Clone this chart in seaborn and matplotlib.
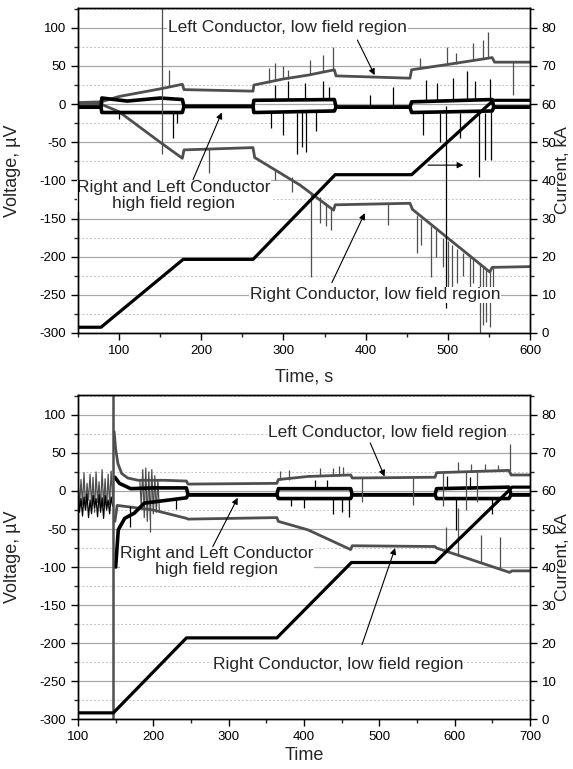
import numpy as np
import pandas as pd
import seaborn as sns
import matplotlib.pyplot as plt
from matplotlib.ticker import MultipleLocator

sns.set_theme(style="ticks")
plt.rcParams['font.family'] = ['Liberation Sans', 'DejaVu Sans']
plt.rcParams['axes.unicode_minus'] = False

GRAY = '#4f4f4f'

# ---------------- top test (time 50..600 s) ----------------
top_cur_t = [50, 78, 178, 263, 363, 456, 553, 556, 600]
top_cur_i = [1.5, 1.5, 19.3, 19.3, 41.5, 41.5, 60.5, 61, 61]

top_left_t = [50, 78, 100, 150, 177, 179, 263, 264, 300, 330, 362, 364, 454, 456, 500, 554, 557, 600]
top_left_v = [2, 3, 10, 20, 26, 19, 17, 25, 33, 38, 45, 37, 34, 45, 52, 61, 55, 55]

top_right_t = [50, 78, 100, 150, 177, 179, 263, 265, 320, 361, 363, 454, 457, 551, 554, 600]
top_right_v = [0, 0, -10, -50, -71, -60, -57, -70, -106, -139, -132, -130, -138, -220, -214, -213]

top_hf_t = [50, 78, 79, 110, 150, 177, 179, 263, 264, 362, 364, 454, 456, 554, 556, 600]
top_hf1_v = [-4, -4, 8, 4, 8, 6, -3, -3, 5, 6, -4, -4, 3, 6, -4, -4]
top_hf2_v = [-4, -4, -11, -11, -11, -11, -3, -3, -11, -9, -4, -4, -11, -9, -4, -4]

# spikes: time, start, end (uV)
top_gray_spk_t = [151.8, 161, 209.5, 283, 290, 300, 305, 332, 348, 360, 466, 499, 510, 531, 543, 549, 579,
                  290, 310, 333, 345, 352, 358, 427, 462, 468, 480, 486, 494, 500, 505, 511, 519, 527, 531,
                  539, 543, 547, 551, 555]
top_gray_spk_lo = [-66, 22, -58, 28, 30, 33, 33, 38, 42, 44, 46, 52, 53, 57, 60, 61, 55,
                   -85, -95, -115, -122, -130, -136, -130, -145, -150, -160, -165, -175, -180, -185, -190, -195,
                   -200, -203, -210, -213, -216, -219, -215]
top_gray_spk_hi = [126, 45, -90, 48, 54, 50, 45, 58, 65, 75, 60, 75, 67, 80, 84, 95, 12,
                   -100, -115, -226, -156, -160, -165, -158, -195, -185, -226, -200, -213, -243, -260, -235, -225,
                   -240, -235, -300, -290, -285, -292, -260]

top_blk_spk_t = [100, 166, 170, 290, 305, 326, 348, 356, 405, 433, 474, 487, 506, 523, 533, 551,
                 285, 300, 316, 322, 328, 340, 470, 490, 497.4, 515, 538, 545, 553]
top_blk_spk_lo = [-12, -12, -12, 5, 5, 5, 6, 6, -4, -4, 4, 4, 5, 5, 6, 7,
                  -12, -12, -12, -10, -10, -10, -12, -12, -3, -12, -12, -12, -10]
top_blk_spk_hi = [-20, -44, -25, 25, 30, 28, 30, 23, 12, 22, 32, 28, 34, 43, 30, 33,
                  -31, -40, -66, -56, -63, -35, -40, -50, -267, -45, -95, -73, -73]

# ---------------- bottom test (time 100..700 s) ----------------
bot_cur_t = [100, 147, 244, 364, 463, 574, 673, 676, 700]
bot_cur_i = [1.7, 1.7, 21.4, 21.4, 41.2, 41.2, 60.3, 61, 61]

bot_left_t = [148, 150, 153, 158, 166, 180, 215, 244, 246, 364, 366, 405, 462, 464, 574, 576, 672, 675, 700]
bot_left_v = [78, 55, 36, 23, 17, 14, 14, 13, 9, 10, 15, 19, 21, 17, 18, 24, 27, 21, 21]

bot_right_t = [149, 152, 160, 200, 244, 246, 364, 366, 405, 462, 464, 574, 576, 673, 676, 700]
bot_right_v = [-40, -19, -20, -25, -36, -37, -35, -40, -51, -77, -72, -73, -75, -107, -105, -105]

bot_hf1_t = [149, 155, 170, 200, 244, 246, 364, 366, 462, 464, 574, 576, 672, 675, 700]
bot_hf1_v = [18, 10, 3, 4, 4, -5, -5, 3, 3, -5, -5, 3, 5, -5, -5]
bot_hf2_t = [150, 153.5, 162, 175, 188, 244, 246, 364, 366, 462, 464, 574, 576, 672, 675, 700]
bot_hf2_v = [-100, -51, -36, -29, -16, -9, -5, -5, -10, -10, -5, -5, -10, -10, -5, -5]

# noisy start before the event at 147 s and the burst near 195 s
osc_t = [100, 102, 104, 106, 108, 110, 112, 114, 116, 118, 120, 122, 124, 126, 128, 130, 132, 134, 136, 138,
         140, 142, 144, 146]
osc_gray = [20, -22, 15, -18, 24, -25, 10, -12, 22, -20, 18, -28, 25, -15, 12, -24, 28, -20, 16, -26, 22, -18,
            26, -10]
osc_black = [-5, -28, -10, -33, -8, -25, -4, -35, -12, -30, -6, -22, -10, -34, -5, -28, -9, -36, -6, -24, -12,
             -30, -8, -20]
burst_t = [182, 184, 186, 188, 190, 192, 194, 196, 198, 200, 202, 204, 206, 208]
burst_gray = [15, -20, 28, -35, 30, -40, 25, -38, 28, -30, 20, -28, 15, -25]

bot_gray_spk_t = [195.6, 368, 380, 421, 439, 447, 452, 605, 622, 640, 658, 674,
                  476.6, 545, 585, 615, 630, 589, 604, 635, 660]
bot_gray_spk_lo = [-30, 14, 15, 19, 20, 20, 21, 25, 25, 26, 26, 26,
                   17, 18, 24, 25, 25, -78, -85, -95, -103]
bot_gray_spk_hi = [-54, 26, 27, 30, 30, 33, 31, 38, 36, 35, 34, 62,
                   -14, -18, -20, -25, -15, -47, -22, -58, -60]
bot_event_t = 147

bot_blk_spk_t = [168.6, 230.5, 383, 400, 415, 430, 439, 450, 460, 590, 602, 620, 650]
bot_blk_spk_lo = [-20, -9, -10, -10, 3, 3, -10, -10, -10, 3, -10, 3, -10]
bot_blk_spk_hi = [-47, -24, -20, -22, 15, 14, -30, -28, -34, 20, -51, 18, -30]

fig = plt.figure(figsize=(5.73, 7.69), dpi=100)
ax_top = fig.add_axes([0.1361, 0.567, 0.7888, 0.4226])
ax_bot = fig.add_axes([0.1361, 0.0646, 0.7888, 0.4217])


def style_axes(ax, ax2, xmin, xmax):
    ax.set_xlim(xmin, xmax)
    ax.set_ylim(-300, 126)
    ax2.set_ylim(0, 85.2)
    ax.xaxis.set_major_locator(MultipleLocator(100))
    ax.xaxis.set_minor_locator(MultipleLocator(50))
    ax.yaxis.set_major_locator(MultipleLocator(50))
    ax.yaxis.set_minor_locator(MultipleLocator(25))
    ax2.yaxis.set_major_locator(MultipleLocator(10))
    ax2.yaxis.set_minor_locator(MultipleLocator(5))
    ax.grid(which='major', axis='y', color='#a8a8a8', lw=0.9, ls='-')
    ax.grid(which='minor', axis='y', color='#c4c4c4', lw=0.7, ls=(0, (2, 2)))
    ax.set_axisbelow(True)
    for a in (ax, ax2):
        for s in a.spines.values():
            s.set_color('black')
            s.set_linewidth(1.0)
            s.set_visible(True)
        a.tick_params(which='major', direction='out', length=5, width=1, labelsize=9.5, colors='black')
        a.tick_params(which='minor', direction='out', length=3, width=1)
    ax.tick_params(axis='y', which='both', right=False)
    ax2.tick_params(axis='y', which='both', left=False, right=True)


def draw_signals(ax, lt, lv, rt, rv, h1t, h1v, h2t, h2v):
    sns.lineplot(x=lt, y=lv, ax=ax, color=GRAY, linewidth=2.0, sort=False, estimator=None)
    sns.lineplot(x=rt, y=rv, ax=ax, color=GRAY, linewidth=2.0, sort=False, estimator=None)
    sns.lineplot(x=h1t, y=h1v, ax=ax, color='black', linewidth=2.6, sort=False, estimator=None)
    sns.lineplot(x=h2t, y=h2v, ax=ax, color='black', linewidth=2.6, sort=False, estimator=None)


arrow = dict(arrowstyle='-|>', color='black', lw=0.8, mutation_scale=9, shrinkA=0, shrinkB=0)
box = dict(facecolor='white', edgecolor='none', pad=0.5)

# ---------------- top panel ----------------
ax2_top = ax_top.twinx()
style_axes(ax_top, ax2_top, 50, 600)
draw_signals(ax_top, top_left_t, top_left_v, top_right_t, top_right_v,
             top_hf_t, top_hf1_v, top_hf_t, top_hf2_v)
ax_top.vlines(top_gray_spk_t, top_gray_spk_lo, top_gray_spk_hi, colors=GRAY, lw=0.9)
ax_top.vlines(top_blk_spk_t, top_blk_spk_lo, top_blk_spk_hi, colors='black', lw=0.9)
sns.lineplot(x=top_cur_t, y=top_cur_i, ax=ax2_top, color='black', linewidth=2.3, sort=False, estimator=None)

ax_top.text(159.5, 100, 'Left Conductor, low field region', fontsize=12.5, va='center', ha='left', bbox=box)
ax_top.annotate('', xy=(411, 38), xytext=(390, 84), arrowprops=arrow)
ax_top.text(166.8, -120, 'Right and Left Conductor\nhigh field region', fontsize=12.5, va='center',
            ha='center', multialignment='center', linespacing=1.05, bbox=box)
ax_top.annotate('', xy=(225, -11), xytext=(190, -99), arrowprops=arrow)
ax_top.text(259, -250, 'Right Conductor, low field region', fontsize=12.5, va='center', ha='left', bbox=box)
ax_top.annotate('', xy=(399, -143), xytext=(359, -234), arrowprops=arrow)
ax_top.annotate('', xy=(519, -80), xytext=(476, -80), arrowprops=arrow)

ax_top.set_xlabel('Time, s', fontsize=13)
ax_top.xaxis.set_label_coords(0.5, -0.11)
ax_top.set_ylabel('Voltage, \u00b5V', fontsize=13)
ax_top.yaxis.set_label_coords(-0.126, 0.5)
ax2_top.set_ylabel('Current, kA', fontsize=12.5)
ax2_top.yaxis.set_label_coords(1.056, 0.5)

# ---------------- bottom panel ----------------
ax2_bot = ax_bot.twinx()
style_axes(ax_bot, ax2_bot, 100, 700)
sns.lineplot(x=osc_t, y=osc_gray, ax=ax_bot, color=GRAY, linewidth=0.9, sort=False, estimator=None)
sns.lineplot(x=osc_t, y=osc_black, ax=ax_bot, color='black', linewidth=0.9, sort=False, estimator=None)
sns.lineplot(x=burst_t, y=burst_gray, ax=ax_bot, color=GRAY, linewidth=0.9, sort=False, estimator=None)
draw_signals(ax_bot, bot_left_t, bot_left_v, bot_right_t, bot_right_v,
             bot_hf1_t, bot_hf1_v, bot_hf2_t, bot_hf2_v)
ax_bot.vlines(bot_gray_spk_t, bot_gray_spk_lo, bot_gray_spk_hi, colors=GRAY, lw=0.9)
ax_bot.vlines(bot_event_t, -300, 126, colors=GRAY, lw=1.8)
ax_bot.vlines(bot_blk_spk_t, bot_blk_spk_lo, bot_blk_spk_hi, colors='black', lw=0.9)
sns.lineplot(x=bot_cur_t, y=bot_cur_i, ax=ax2_bot, color='black', linewidth=2.3, sort=False, estimator=None)

ax_bot.text(352, 77, 'Left Conductor, low field region', fontsize=12.5, va='center', ha='left', bbox=box)
ax_bot.annotate('', xy=(507, 19), xytext=(488, 63), arrowprops=arrow)
ax_bot.text(284.5, -93, 'Right and Left Conductor\nhigh field region', fontsize=12.5, va='center',
            ha='center', multialignment='center', linespacing=1.05, bbox=box)
ax_bot.annotate('', xy=(312, -9), xytext=(279, -73), arrowprops=arrow)
ax_bot.text(279, -228, 'Right Conductor, low field region', fontsize=12.5, va='center', ha='left', bbox=box)
ax_bot.annotate('', xy=(521, -75), xytext=(477, -202), arrowprops=arrow)

ax_bot.set_xlabel('Time', fontsize=13)
ax_bot.xaxis.set_label_coords(0.5, -0.085)
ax_bot.set_ylabel('Voltage, \u00b5V', fontsize=13)
ax_bot.yaxis.set_label_coords(-0.126, 0.5)
ax2_bot.set_ylabel('Current, kA', fontsize=12.5)
ax2_bot.yaxis.set_label_coords(1.056, 0.5)

fig.savefig('out.png', dpi=100)
